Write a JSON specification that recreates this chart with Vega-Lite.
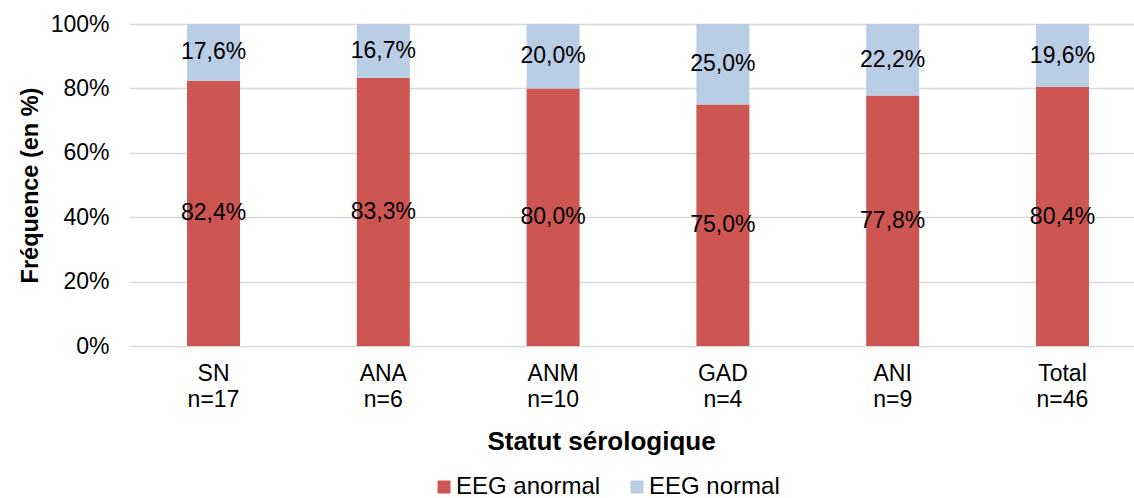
{
  "$schema": "https://vega.github.io/schema/vega-lite/v6.json",
  "width": 1005,
  "height": 322,
  "autosize": "none",
  "padding": {"left": 129, "top": 24, "right": 0, "bottom": 152},
  "background": "white",
  "config": {
    "font": "Liberation Sans",
    "view": {"stroke": null},
    "axis": {"labelFont": "Liberation Sans", "titleFont": "Liberation Sans", "labelColor": "#000000", "titleColor": "#000000"}
  },
  "data": {
    "values": [
      {"cat": "SN|n=17", "series": "EEG anormal", "value": 0.824, "label": "82,4%"},
      {"cat": "SN|n=17", "series": "EEG normal", "value": 0.176, "label": "17,6%"},
      {"cat": "ANA|n=6", "series": "EEG anormal", "value": 0.833, "label": "83,3%"},
      {"cat": "ANA|n=6", "series": "EEG normal", "value": 0.167, "label": "16,7%"},
      {"cat": "ANM|n=10", "series": "EEG anormal", "value": 0.80, "label": "80,0%"},
      {"cat": "ANM|n=10", "series": "EEG normal", "value": 0.20, "label": "20,0%"},
      {"cat": "GAD|n=4", "series": "EEG anormal", "value": 0.75, "label": "75,0%"},
      {"cat": "GAD|n=4", "series": "EEG normal", "value": 0.25, "label": "25,0%"},
      {"cat": "ANI|n=9", "series": "EEG anormal", "value": 0.778, "label": "77,8%"},
      {"cat": "ANI|n=9", "series": "EEG normal", "value": 0.222, "label": "22,2%"},
      {"cat": "Total|n=46", "series": "EEG anormal", "value": 0.804, "label": "80,4%"},
      {"cat": "Total|n=46", "series": "EEG normal", "value": 0.196, "label": "19,6%"}
    ]
  },
  "encoding": {
    "x": {
      "field": "cat", "type": "nominal", "sort": null,
      "scale": {"type": "band", "paddingInner": 0.688, "paddingOuter": 0.3035, "align": 0.563},
      "axis": {
        "title": "Statut sérologique",
        "titleFontSize": 26, "titleFontWeight": "bold",
        "titleX": 472, "titleAnchor": "middle", "titleAlign": "center",
        "titleY": 95, "titleBaseline": "middle",
        "labelExpr": "split(datum.label, '|')",
        "labelFontSize": 23, "labelLineHeight": 26, "labelPadding": 16,
        "labelAngle": 0, "domain": false, "ticks": false, "grid": false
      }
    }
  },
  "layer": [
    {
      "mark": {"type": "bar"},
      "encoding": {
        "y": {
          "field": "value", "type": "quantitative", "stack": "zero",
          "scale": {"domain": [0, 1], "nice": false},
          "axis": {
            "title": "Fréquence (en %)", "titleFontSize": 23.5, "titleFontWeight": "bold", "titlePadding": 8,
            "format": ".0%", "values": [0, 0.2, 0.4, 0.6, 0.8, 1],
            "labelFontSize": 23, "labelPadding": 20,
            "domain": false, "ticks": false, "grid": true, "gridColor": "#D9D9D9", "gridWidth": 1.5
          }
        },
        "color": {
          "field": "series", "type": "nominal",
          "scale": {"domain": ["EEG anormal", "EEG normal"], "range": ["#CD5653", "#B9CDE5"]},
          "legend": {
            "title": null, "orient": "none", "direction": "horizontal",
            "legendX": 303, "legendY": 451, "padding": 0,
            "symbolType": "square", "symbolSize": 169, "symbolStrokeWidth": 0,
            "labelFontSize": 24, "labelOffset": 0, "columnPadding": 24, "labelColor": "#000000"
          }
        },
        "order": {"field": "series", "sort": "ascending"}
      }
    },
    {
      "transform": [
        {"stack": "value", "groupby": ["cat"], "sort": [{"field": "series", "order": "ascending"}], "as": ["v0", "v1"]},
        {"fold": ["v0", "v1"], "as": ["k", "pos"]},
        {"aggregate": [{"op": "mean", "field": "pos", "as": "mid"}], "groupby": ["cat", "series", "label"]}
      ],
      "mark": {"type": "text", "fontSize": 23, "color": "#000000", "baseline": "middle", "align": "center"},
      "encoding": {
        "y": {"field": "mid", "type": "quantitative"},
        "text": {"field": "label"}
      }
    }
  ]
}
